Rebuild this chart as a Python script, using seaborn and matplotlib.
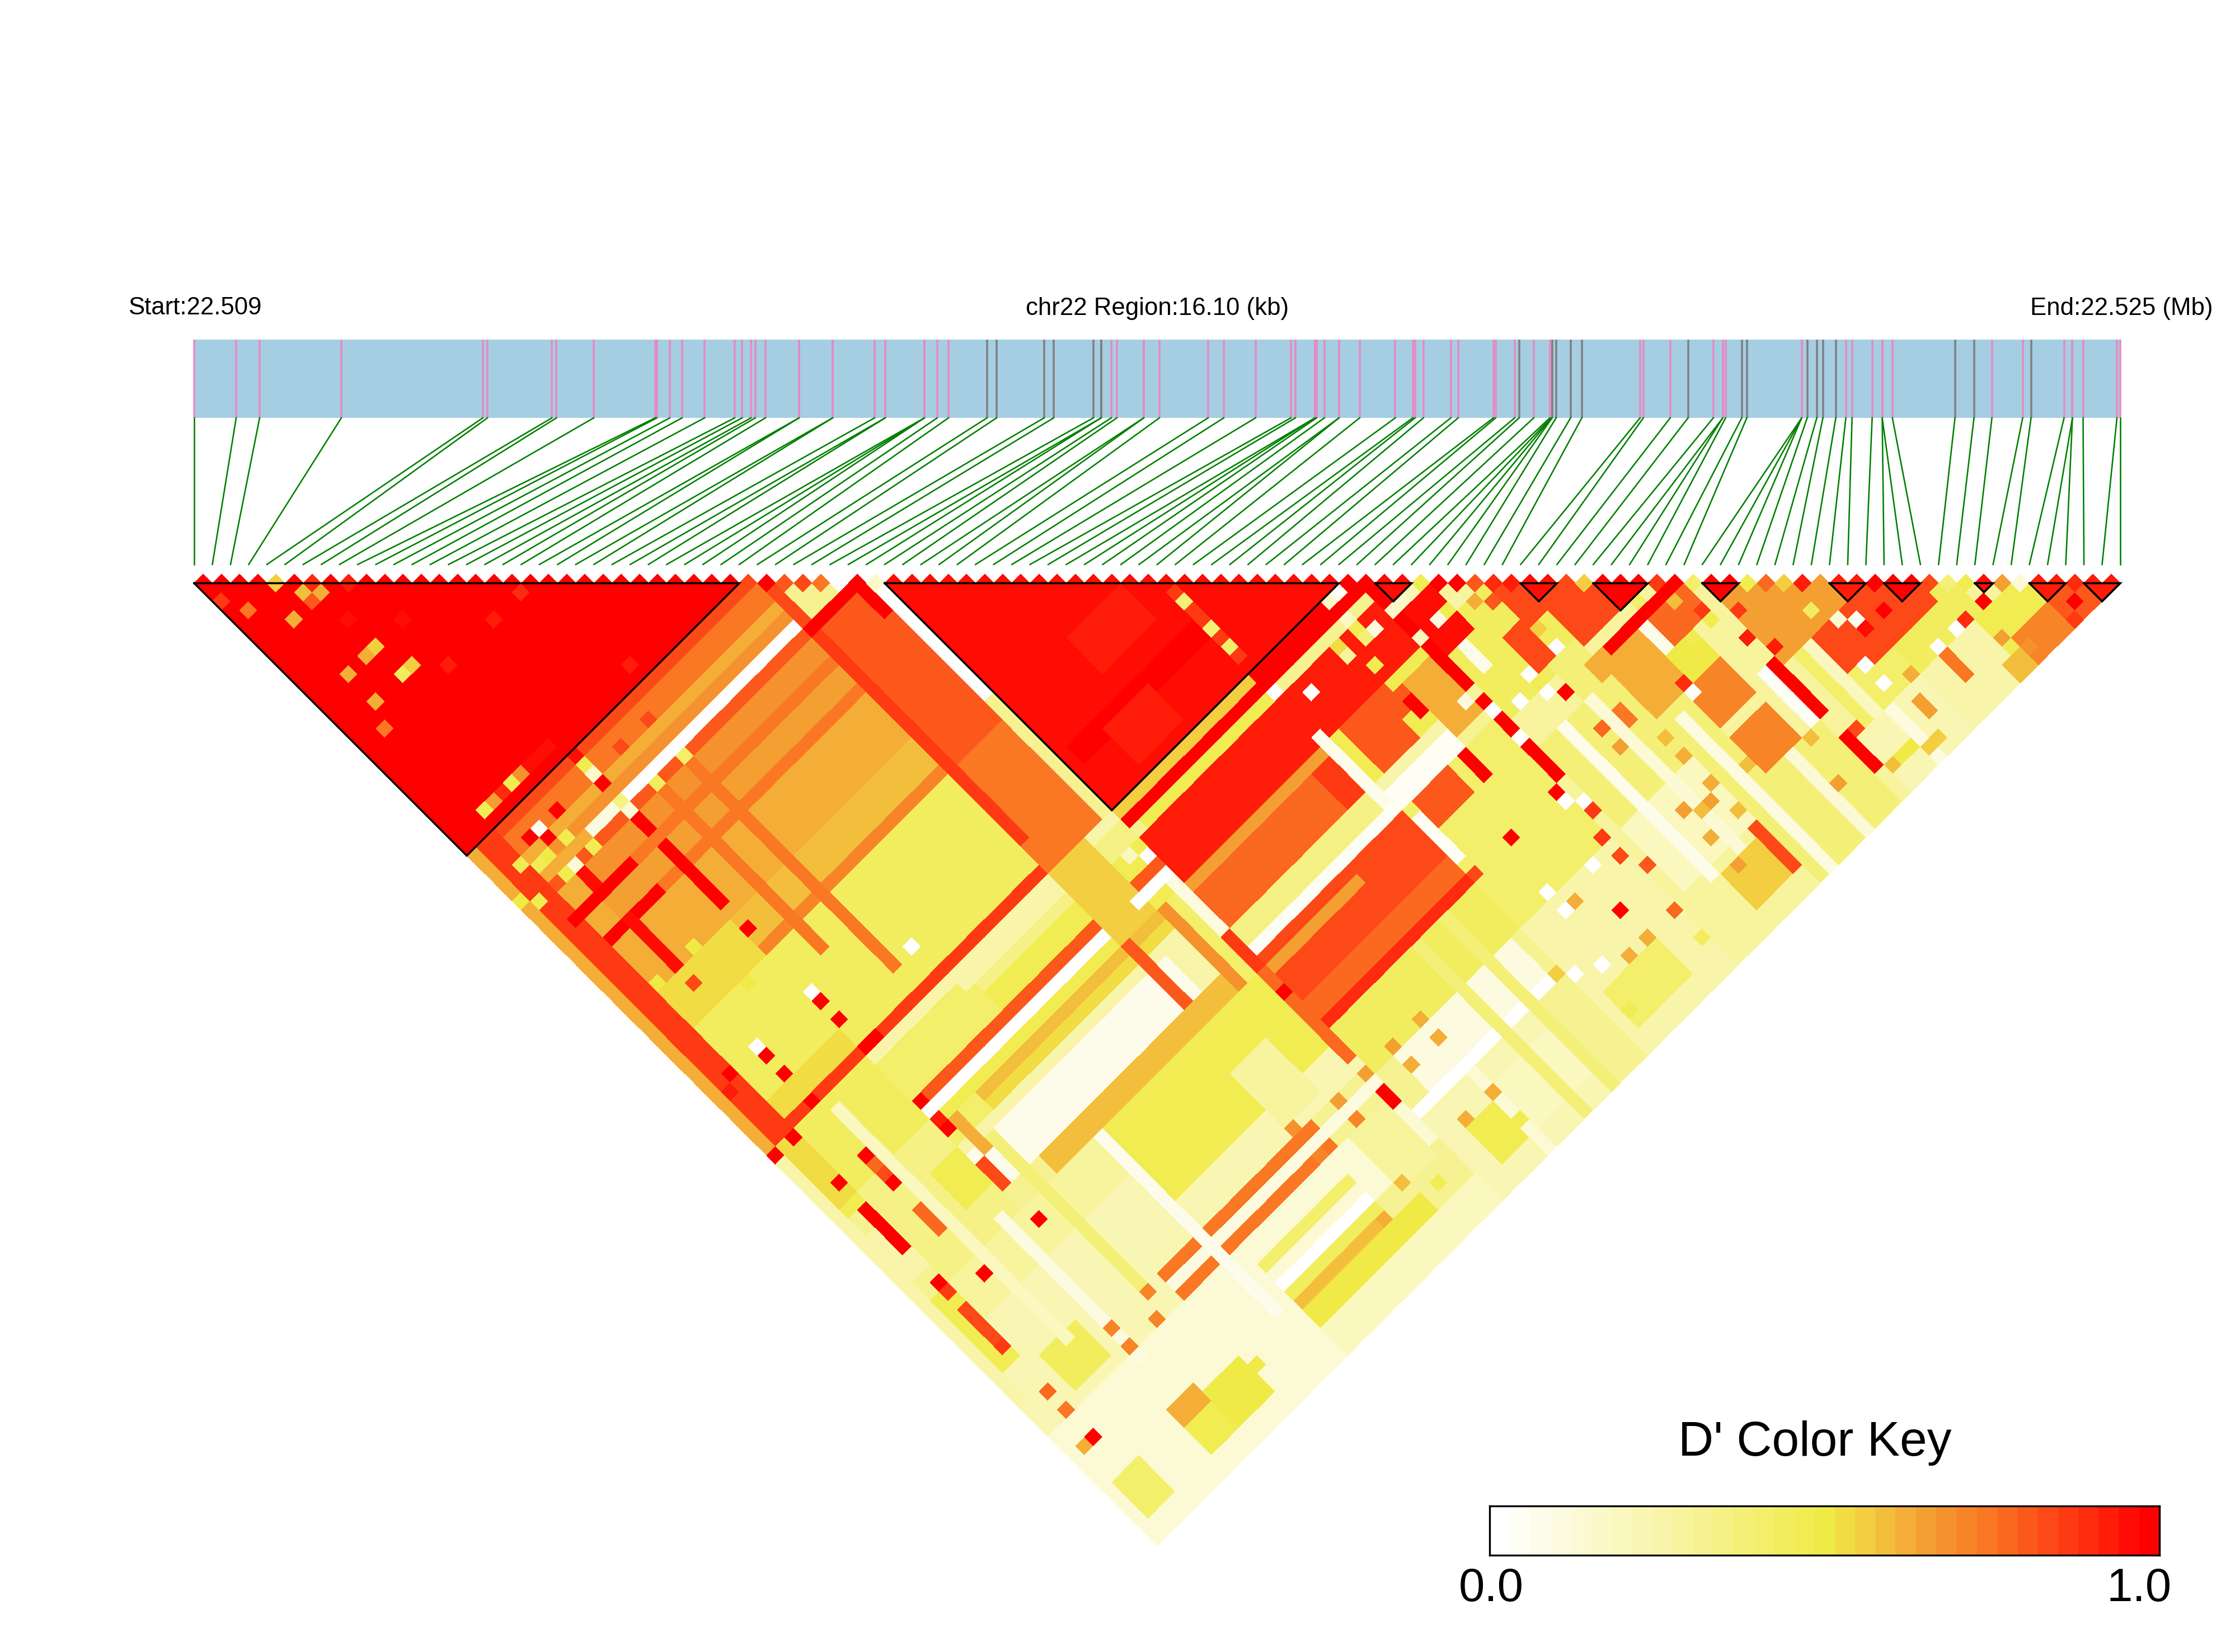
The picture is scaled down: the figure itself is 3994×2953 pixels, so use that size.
import numpy as np
import matplotlib
matplotlib.use('Agg')
import matplotlib.pyplot as plt
import seaborn as sns
from matplotlib.colors import LinearSegmentedColormap, ListedColormap
from matplotlib.patches import Rectangle
from matplotlib.transforms import Affine2D

plt.rcParams['font.family'] = ['Liberation Sans', 'DejaVu Sans']

# SNP positions along the region, kb from the start
snp_kb = [0, .351, .547, 1.23, 2.413, 2.451, 2.99, 3.028, 3.34, 3.854, 3.868, 3.976,
          4.078, 4.266, 4.518, 4.58, 4.654, 4.69, 4.775, 5.056, 5.056, 5.337, 5.337, 5.687,
          5.776, 5.776, 6.104, 6.104, 6.104, 6.211, 6.305, 6.627, 6.707, 7.104, 7.184, 7.516,
          7.581, 7.581, 7.666, 7.712, 7.937, 7.937, 8.068, 8.475, 8.606, 8.872, 9.167, 9.204,
          9.368, 9.368, 9.382, 9.447, 9.569, 9.569, 9.742, 10.04, 10.186, 10.205, 10.275, 10.504,
          10.565, 10.86, 10.879, 11.038, 11.075, 11.197, 11.332, 11.342, 11.346, 11.351, 11.384,
          11.505, 11.599, 12.086, 12.113, 12.338, 12.487, 12.698, 12.777, 12.777, 12.801, 12.936,
          12.978, 13.437, 13.437, 13.437, 13.483, 13.563, 13.614, 13.722, 13.806, 13.858, 14.026,
          14.11, 14.11, 14.195, 14.718, 14.877, 15.027, 15.284, 15.354, 15.63, 15.7, 15.7,
          15.789, 16.072, 16.10]
gray_snps = [31, 32, 33, 34, 35, 36, 37, 64, 69, 70, 71, 72, 76, 81, 82, 86, 87, 88, 89, 96, 97, 100]
ld_blocks = [(0, 30), (38, 63), (65, 67), (73, 75), (77, 80), (83, 85), (90, 92), (93, 95), (98, 99),
             (101, 103), (104, 106)]
key_ticks = ['0.0', '1.0']

# D' levels 0-32: (first i, last i, first j, last j, level), later rows overwrite
base_areas = [
    (0, 37, 31, 106, 10), (38, 63, 64, 106, 10), (64, 105, 65, 106, 9),
    (0, 30, 0, 30, 32), (38, 63, 38, 63, 31),
    (0, 30, 31, 31, 27), (0, 30, 32, 33, 24), (0, 30, 34, 34, 20), (0, 30, 35, 35, 22), (0, 30, 36, 36, 20),
    (12, 31, 36, 36, 0), (8, 11, 36, 36, 3), (0, 30, 37, 37, 26), (0, 30, 38, 39, 22), (0, 30, 40, 40, 24),
    (0, 30, 41, 42, 21), (0, 30, 43, 43, 24), (0, 30, 44, 48, 20), (0, 30, 49, 51, 19), (0, 30, 52, 52, 23),
    (0, 30, 53, 62, 14), (0, 30, 63, 63, 28), (0, 37, 64, 64, 8), (0, 37, 65, 66, 11), (0, 37, 67, 68, 15),
    (0, 37, 69, 69, 26), (0, 37, 70, 70, 0), (0, 37, 71, 71, 15), (15, 37, 72, 72, 19), (15, 37, 73, 73, 17),
    (0, 37, 74, 78, 8), (11, 32, 75, 78, 2), (15, 37, 79, 80, 19), (0, 37, 81, 88, 15), (0, 37, 89, 91, 7),
    (15, 31, 92, 92, 24), (0, 37, 93, 93, 3), (15, 31, 94, 94, 24), (0, 37, 95, 99, 4), (15, 30, 97, 97, 13),
    (13, 30, 99, 99, 0), (15, 30, 100, 100, 14), (15, 30, 101, 101, 19),
    (15, 33, 102, 103, 16), (0, 37, 104, 106, 6),
]
middle_stripes = [
    (31, 31, 32, 63, 27), (32, 36, 38, 52, 26), (31, 36, 53, 63, 24), (31, 31, 38, 60, 28), (36, 36, 37, 40, 32),
    (31, 35, 37, 37, 32), (37, 37, 38, 50, 0), (37, 37, 51, 63, 10), (17, 17, 37, 60, 24), (14, 14, 38, 55, 24),
    (11, 11, 37, 39, 32), (11, 11, 41, 47, 32), (0, 0, 31, 63, 20), (1, 2, 31, 63, 28), (0, 0, 64, 100, 8), (1, 2, 64, 70, 17),
    (3, 4, 38, 52, 20), (3, 10, 49, 62, 17), (3, 10, 53, 60, 14), (5, 5, 37, 40, 31), (2, 8, 40, 40, 32),
    (3, 8, 43, 43, 32), (5, 5, 43, 48, 31), (38, 63, 64, 64, 18), (53, 63, 64, 64, 32), (38, 63, 65, 65, 32),
    (39, 53, 66, 66, 15), (38, 63, 67, 71, 30), (38, 53, 72, 72, 21), (38, 50, 73, 76, 25), (51, 52, 73, 76, 28),
    (53, 53, 71, 78, 2), (38, 52, 77, 78, 11), (37, 53, 79, 79, 1), (38, 53, 80, 84, 27), (38, 47, 81, 81, 21),
    (38, 53, 85, 86, 25), (38, 55, 87, 87, 29), (38, 53, 88, 92, 14), (40, 52, 93, 96, 3), (38, 58, 97, 97, 0),
    (38, 50, 98, 106, 7), (54, 60, 72, 76, 26), (59, 60, 75, 76, 15), (54, 54, 72, 76, 15), (54, 60, 77, 77, 8),
    (54, 60, 78, 79, 1), (54, 63, 80, 92, 13), (55, 58, 80, 82, 26), (54, 54, 81, 85, 1), (54, 63, 93, 106, 8),
    (60, 63, 72, 72, 15), (61, 63, 73, 78, 20), (37, 37, 71, 76, 3), (37, 37, 77, 80, 28),
    (36, 36, 72, 80, 13), (35, 35, 72, 80, 22), (31, 31, 72, 78, 26), (31, 34, 64, 71, 18), (37, 37, 81, 90, 25),
    (53, 53, 55, 62, 28), (39, 52, 58, 59, 32), (42, 46, 59, 62, 30), (45, 50, 52, 55, 30),
    (20, 29, 83, 87, 15), (3, 19, 81, 84, 9), (3, 19, 85, 91, 7), (0, 14, 92, 94, 7), (0, 20, 95, 106, 4),
    (3, 14, 72, 73, 13), (3, 10, 71, 80, 11), (8, 20, 65, 68, 13), (3, 10, 64, 70, 14), (20, 30, 65, 65, 8),
    (8, 10, 74, 77, 15), (12, 12, 72, 75, 20), (11, 11, 76, 78, 27), (11, 14, 101, 104, 16), (8, 10, 100, 101, 20),
    (8, 10, 102, 104, 15), (4, 7, 90, 93, 14), (1, 3, 101, 104, 13), (33, 36, 95, 100, 9), (30, 33, 85, 90, 9),
    (55, 60, 101, 104, 13), (40, 44, 101, 104, 15), (44, 50, 100, 104, 6), (6, 6, 65, 90, 6), (9, 9, 80, 95, 3),
    (13, 13, 75, 92, 12), (19, 19, 81, 100, 2), (43, 43, 98, 106, 4), (47, 47, 88, 106, 12), (50, 50, 88, 106, 12),
]
right_stripes = [
    (64, 64, 66, 71, 32), (64, 64, 72, 76, 32), (64, 64, 78, 80, 32), (64, 64, 81, 86, 32), (65, 67, 68, 73, 31),
    (65, 67, 74, 80, 14), (68, 72, 72, 80, 14), (71, 72, 73, 76, 27), (69, 70, 76, 79, 27), (70, 72, 80, 90, 12),
    (73, 82, 76, 80, 27), (72, 76, 82, 88, 20), (74, 81, 82, 82, 32), (76, 79, 89, 92, 23), (76, 79, 94, 97, 23),
    (78, 81, 83, 85, 25), (77, 77, 83, 85, 2), (77, 79, 86, 88, 16), (82, 82, 92, 97, 32), (82, 82, 100, 103, 32),
    (83, 83, 100, 103, 27), (72, 72, 100, 104, 27), (68, 71, 101, 104, 18), (65, 72, 84, 92, 12), (65, 72, 93, 99, 6),
    (73, 75, 89, 100, 12), (73, 81, 98, 106, 12), (83, 90, 86, 92, 21), (84, 89, 93, 100, 13), (90, 96, 96, 100, 14),
    (83, 89, 101, 106, 7), (90, 105, 101, 106, 8), (92, 92, 100, 103, 24), (86, 92, 93, 96, 27), (88, 94, 96, 97, 27),
    (96, 100, 101, 104, 15), (97, 100, 104, 106, 23), (95, 96, 105, 106, 19), (101, 103, 104, 106, 26), (81, 81, 92, 97, 1),
    (67, 67, 84, 100, 2), (70, 70, 84, 100, 4), (74, 74, 90, 106, 3), (78, 78, 98, 106, 4), (86, 86, 101, 106, 3),
    (85, 85, 93, 100, 6),
    # small LD blocks are solid red
    (65, 67, 65, 67, 31), (73, 75, 73, 75, 31), (77, 80, 77, 80, 32), (83, 85, 83, 85, 32), (90, 92, 90, 92, 30),
    (93, 95, 93, 95, 32), (98, 99, 98, 99, 31), (101, 103, 101, 103, 30), (104, 106, 104, 106, 30),
]
single_cells = [
    # block 1
    (4, 5, 18), (6, 7, 29), (5, 7, 19), (6, 8, 20), (5, 8, 26), (8, 9, 30), (0, 3, 28), (1, 5, 24), (3, 8, 20),
    (6, 11, 31), (9, 14, 31), (14, 19, 30), (17, 19, 29), (6, 14, 18), (5, 14, 20), (3, 14, 20), (7, 17, 18),
    (6, 17, 14), (3, 17, 20), (2, 19, 24), (3, 29, 15), (4, 29, 21), (5, 29, 29), (6, 29, 15), (7, 29, 22),
    (8, 29, 31), (9, 29, 31), (10, 29, 31), (19, 29, 30), (9, 19, 30),
    # top row
    (30, 31, 27), (31, 32, 32), (32, 33, 26), (33, 34, 27), (34, 35, 24), (35, 36, 0), (36, 37, 32), (37, 38, 5),
    (63, 64, 32), (64, 65, 32), (67, 68, 15), (68, 69, 32), (69, 70, 32), (70, 71, 26), (71, 72, 29), (72, 73, 30),
    (75, 76, 27), (76, 77, 18), (80, 81, 28), (81, 82, 32), (82, 83, 13), (85, 86, 15), (86, 87, 25), (87, 88, 18),
    (88, 89, 30), (89, 90, 21), (92, 93, 32), (95, 96, 27), (96, 97, 12), (97, 98, 15), (99, 100, 21), (100, 101, 4),
    (103, 104, 29),
    # left part
    (11, 34, 32), (7, 33, 32), (5, 33, 1), (5, 34, 32), (4, 33, 32), (11, 33, 5), (11, 32, 15), (11, 31, 31),
    (14, 33, 27), (17, 33, 27), (6, 35, 15), (7, 37, 15), (5, 37, 4), (4, 37, 15), (4, 35, 16), (2, 34, 15),
    (3, 35, 15), (0, 36, 16), (1, 37, 15), (11, 37, 4), (17, 37, 13), (14, 37, 14), (11, 36, 11), (5, 50, 27),
    (11, 50, 32), (8, 53, 16), (19, 60, 0), (11, 57, 0), (11, 58, 32), (11, 60, 32), (7, 48, 16), (3, 48, 16),
    # lower left
    (11, 63, 32), (12, 63, 32), (5, 63, 32), (2, 64, 32), (0, 64, 32), (11, 69, 32), (11, 72, 32), (11, 71, 30),
    (5, 72, 32), (5, 71, 27), (5, 69, 32), (2, 69, 32), (2, 57, 32), (1, 58, 30), (5, 60, 32), (5, 58, 32), (5, 57, 0),
    (2, 72, 32), (2, 73, 32), (2, 74, 32), (2, 75, 32), (2, 76, 32), (2, 80, 32), (2, 81, 28), (5, 82, 32), (2, 87, 28),
    (11, 82, 32), (2, 97, 32), (1, 97, 20), (2, 83, 27), (2, 84, 27), (2, 85, 27), (2, 86, 27), (5, 75, 25), (5, 76, 25),
    (5, 77, 25), (5, 70, 25), (2, 92, 25), (2, 94, 24), (9, 92, 23), (9, 94, 23), (12, 94, 23), (13, 92, 23),
    # middle lower
    (37, 95, 32), (37, 94, 32), (37, 83, 32), (60, 97, 32), (63, 100, 25), (58, 94, 20), (55, 103, 15), (63, 103, 14),
    (53, 97, 18), (58, 100, 20), (60, 100, 20), (33, 100, 19), (30, 101, 20), (35, 102, 15), (37, 92, 21), (34, 92, 21),
    (34, 94, 23), (30, 91, 22), (30, 94, 23), (43, 103, 15), (43, 100, 20), (40, 100, 20), (40, 103, 15), (43, 92, 20),
    (43, 94, 20), (40, 92, 21), (40, 94, 20), (13, 103, 16), (15, 102, 16), (37, 68, 0), (36, 67, 6), (34, 70, 0),
    # block 2 edge
    (53, 56, 12), (53, 59, 12), (53, 61, 13), (61, 64, 5), (62, 64, 1), (61, 66, 5), (61, 67, 15), (61, 68, 12),
    (62, 68, 3), (59, 67, 17), (59, 68, 9), (53, 66, 0), (55, 68, 0), (60, 70, 15), (60, 72, 15), (60, 74, 32),
    (60, 75, 32), (60, 80, 32), (60, 81, 32), (60, 82, 32), (54, 87, 27), (64, 68, 5), (65, 68, 5), (58, 87, 32),
    (66, 68, 7), (64, 71, 6), (66, 71, 3), (67, 71, 15), (68, 71, 8), (63, 77, 3), (66, 74, 2), (66, 75, 2), (66, 76, 2),
    (64, 79, 0), (64, 82, 0), (63, 87, 32), (69, 82, 32), (64, 90, 28), (63, 92, 28), (63, 94, 27), (63, 88, 0), (64, 89, 0),
    (57, 92, 0), (57, 94, 0), (61, 93, 0), (56, 99, 0), (54, 98, 0), (66, 80, 0), (68, 81, 0), (68, 79, 0), (71, 77, 18),
    (71, 79, 0), (69, 72, 20), (70, 73, 26), (68, 80, 15),
    # right part
    (78, 81, 13), (80, 83, 19), (81, 85, 28), (81, 86, 15), (79, 86, 15), (83, 87, 28), (82, 89, 30), (83, 91, 30),
    (87, 91, 14), (88, 93, 4), (89, 94, 1), (89, 95, 31), (91, 95, 32), (87, 99, 0), (87, 97, 0), (92, 100, 0), (94, 100, 0),
    (95, 100, 29), (97, 100, 32), (97, 103, 15), (102, 105, 32), (101, 106, 28), (76, 88, 29), (76, 89, 1), (81, 92, 0),
    (64, 96, 26), (69, 86, 25), (69, 88, 21), (72, 92, 20), (72, 90, 19), (71, 86, 24), (71, 87, 24), (69, 95, 21),
    (70, 96, 19), (69, 98, 20), (69, 101, 21), (71, 96, 21), (72, 98, 19), (75, 96, 19), (72, 95, 20), (79, 102, 21),
    (80, 98, 19), (83, 104, 19), (84, 104, 16), (85, 104, 16), (86, 105, 18), (89, 100, 20), (88, 102, 21), (88, 103, 21),
    (87, 105, 18), (96, 103, 21), (97, 105, 22),
]

# build the matrix, rows are i, columns are j-1
ld = np.full((106, 106), np.nan)
for i0, i1, j0, j1, level in base_areas + middle_stripes + right_stripes:
    for i in range(i0, i1 + 1):
        for j in range(max(j0, i + 1), j1 + 1):
            ld[i, j - 1] = level
for i, j, level in single_cells:
    ld[i, j - 1] = level

anchors = [(0, '#ffffff'), (8 / 32, '#f8f5aa'), (16 / 32, '#f0eb46'), (18 / 32, '#f3cf41'), (21 / 32, '#f4a032'),
           (24 / 32, '#fa7823'), (28 / 32, '#fe3c14'), (1, '#ff0000')]
smooth = LinearSegmentedColormap.from_list('dprime', anchors)
levels_cmap = ListedColormap([smooth(k / 32) for k in range(33)])

W, H = 3994, 2953
fig = plt.figure(figsize=(W / 300, H / 300), dpi=300)
ax = fig.add_axes([0, 0, 1, 1])

left, right = 347, 3789
dx = (right - left) / 106
top = 1042.5
rotate = Affine2D.from_values(dx / 2, dx / 2, dx / 2, -dx / 2, left, top)

sns.heatmap(ld, ax=ax, cmap=levels_cmap, vmin=-0.5, vmax=32.5, cbar=False, mask=np.isnan(ld),
            xticklabels=False, yticklabels=False, square=False)
ax.collections[0].set_transform(rotate + ax.transData)
ax.set_xlim(0, W)
ax.set_ylim(H, 0)
ax.axis('off')

# gene track
kb = np.array(snp_kb)
track_x = left + kb / kb.max() * (right - left)
ax.add_patch(Rectangle((left, 607), right - left, 140, fc='#a6cee3', ec='none', zorder=1))
for n, x in enumerate(track_x):
    col = '#808080' if n in gray_snps else '#e78ac3'
    ax.plot([x, x], [607, 747], color=col, lw=0.85, solid_capstyle='butt', zorder=2)
    ax.plot([x, left + n * dx], [747, 1009], color='#008000', lw=0.62, zorder=2)

# block outlines
for a, b in ld_blocks:
    ax.plot([a, b, b, a], [a, b, a, a], transform=rotate + ax.transData,
            color='black', lw=0.85, solid_joinstyle='miter', zorder=4)

ax.text(229, 551, 'Start:22.509', fontsize=10.5, ha='left', va='center')
ax.text(2068, 551, 'chr22 Region:16.10 (kb)', fontsize=10.5, ha='center', va='center')
ax.text(3628, 551, 'End:22.525 (Mb)', fontsize=10.5, ha='left', va='center')

# colour key
key_ax = fig.add_axes([2662 / W, 1 - 2780 / H, (3859 - 2662) / W, (2780 - 2692) / H])
sns.heatmap(np.arange(33).reshape(1, -1), ax=key_ax, cmap=levels_cmap, vmin=-0.5, vmax=32.5, cbar=False,
            xticklabels=False, yticklabels=False)
for s in key_ax.spines.values():
    s.set_visible(True)
    s.set_linewidth(0.8)
    s.set_color('black')
ax.text(3243, 2580, "D' Color Key", fontsize=21, ha='center', va='center')
ax.text(2665, 2840, key_ticks[0], fontsize=20, ha='center', va='center')
ax.text(3823, 2840, key_ticks[1], fontsize=20, ha='center', va='center')

fig.savefig('out.png', dpi=300, facecolor='white')
